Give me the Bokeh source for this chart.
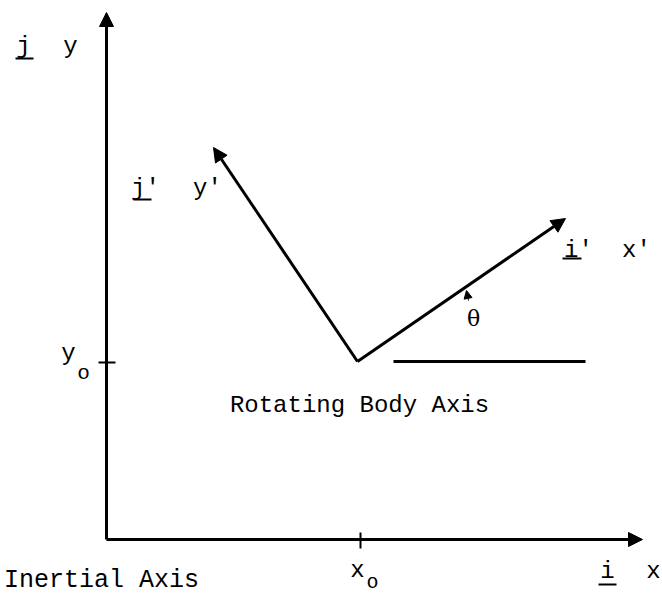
from bokeh.plotting import figure
from bokeh.models import Range1d, Arrow, NormalHead, ColumnDataSource
from bokeh.core.properties import value
from bokeh.embed import file_html
from bokeh.resources import INLINE

# ---- diagram data (picture coordinates, y grows downward) ----
origin_inertial = [106, 539]
inertial_x_tip = [642, 539]
inertial_y_tip = [106, 12]
body_origin = [357, 361]           # (x0, y0)
body_x_tip = [565, 218]            # x' axis tip
body_y_tip = [213, 147]            # y' axis tip
ref_line_x = [393, 585]            # horizontal reference line for theta
x0_tick = [360, 532, 548]          # x, y_start, y_end
y0_tick = [362, 98, 115]           # y, x_start, x_end
theta_mark = [468, 300, 466, 290]  # small arrow marking theta

label_text = ["j", "y", "j'", "y'", "i'", "x'", "y", "o", "x", "o",
              "Rotating Body Axis", "Inertial Axis", "i", "x"]
label_x = [23, 70, 145, 207, 578, 636, 68, 83, 357, 372, 359, 101, 607, 653]
label_y = [46, 46, 188, 188, 250, 250, 353, 373, 570, 582, 405, 580, 571, 571]
label_size = ["24px", "24px", "24px", "24px", "24px", "24px", "24px", "21px",
              "24px", "20px", "24px", "25px", "24px", "24px"]
underline_x0 = [15, 133, 562, 598]
underline_x1 = [33, 151, 581, 616]
underline_y = [58, 199, 258, 584]

theta_text = ["θ"]
theta_x = [473]
theta_y = [318]

W, H = 660, 596
p = figure(width=W, height=H, output_backend="svg", toolbar_location=None,
           x_range=Range1d(0, W), y_range=Range1d(H, 0),
           min_border=0, outline_line_color=None)
p.axis.visible = False
p.grid.visible = False
p.background_fill_color = "white"
p.border_fill_color = "white"

LW = 3
col = "black"

# inertial axes
for tip in (inertial_x_tip, inertial_y_tip):
    p.add_layout(Arrow(end=NormalHead(size=14, fill_color=col, line_color=col, line_width=1),
                       x_start=origin_inertial[0], y_start=origin_inertial[1],
                       x_end=tip[0], y_end=tip[1], line_width=LW, line_color=col))

# body axes
for tip in (body_x_tip, body_y_tip):
    p.add_layout(Arrow(end=NormalHead(size=14, fill_color=col, line_color=col, line_width=1),
                       x_start=body_origin[0], y_start=body_origin[1],
                       x_end=tip[0], y_end=tip[1], line_width=LW, line_color=col))

# reference line and ticks
p.line(ref_line_x, [body_origin[1], body_origin[1]], line_width=LW, line_color=col)
p.line([x0_tick[0], x0_tick[0]], [x0_tick[1], x0_tick[2]], line_width=2, line_color=col)
p.line([y0_tick[1], y0_tick[2]], [y0_tick[0], y0_tick[0]], line_width=2, line_color=col)

# theta marker
p.add_layout(Arrow(end=NormalHead(size=8, fill_color=col, line_color=col, line_width=1),
                   x_start=theta_mark[0], y_start=theta_mark[1],
                   x_end=theta_mark[2], y_end=theta_mark[3], line_width=1, line_color=col))

src = ColumnDataSource(dict(x=label_x, y=label_y, t=label_text, s=label_size))
p.text(x="x", y="y", text="t", source=src, text_font=value("Liberation Mono"),
       text_font_size="s", text_align="center", text_baseline="middle", text_color=col)

p.segment(x0=underline_x0, y0=underline_y, x1=underline_x1, y1=underline_y,
          line_width=2, line_color=col)

p.text(x=theta_x, y=theta_y, text=theta_text, text_font=value("DejaVu Serif"),
       text_font_size="22px", text_align="center", text_baseline="middle", text_color=col)

open("out.html", "w").write(file_html(p, INLINE))
